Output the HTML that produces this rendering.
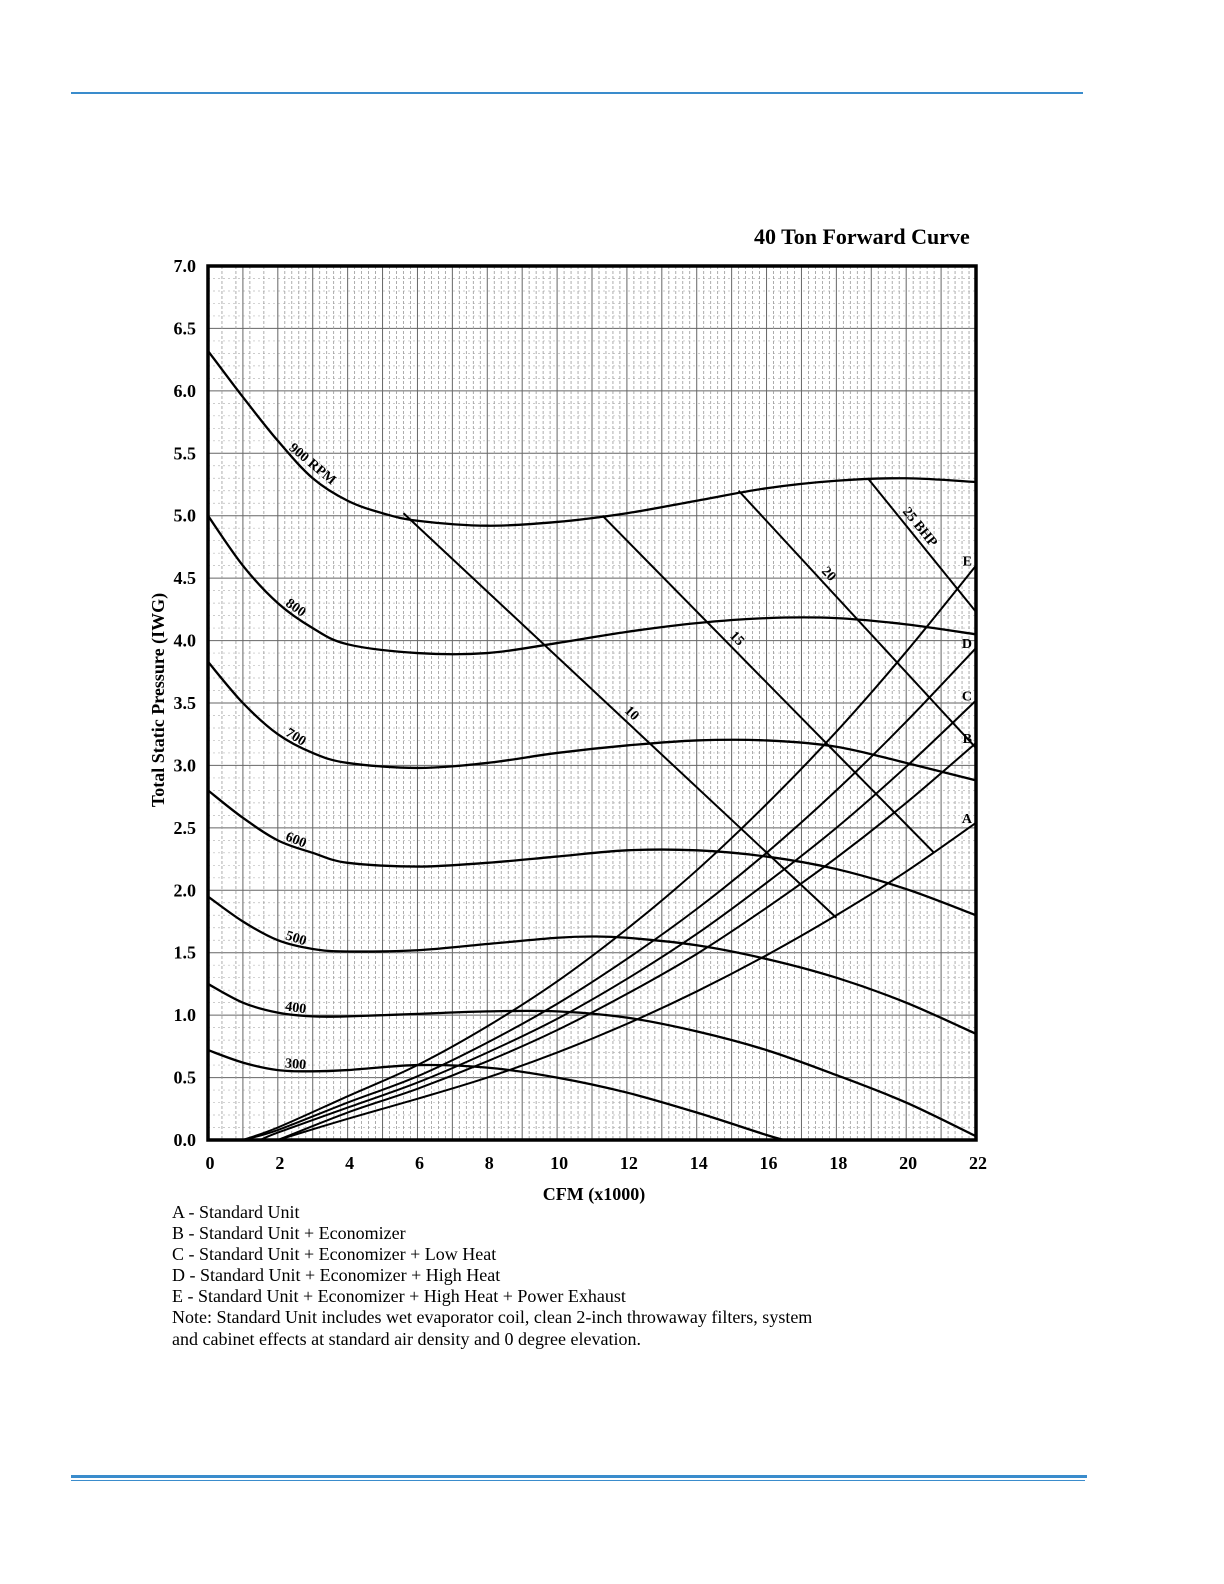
<!DOCTYPE html>
<html><head><meta charset="utf-8"><style>
html,body{margin:0;padding:0;background:#fff;}
body{width:1224px;height:1584px;position:relative;overflow:hidden;font-family:"Liberation Serif",serif;}
.t{position:absolute;white-space:nowrap;color:#000;}
</style></head><body>
<div style="position:absolute;left:71px;top:92px;width:1012px;height:2px;background:#3a8ccc;"></div>
<div style="position:absolute;left:71px;top:1475px;width:1016px;height:3px;background:#3a8ccc;"></div>
<div style="position:absolute;left:71px;top:1480px;width:1014px;height:1px;background:#3a8ccc;"></div>
<div class="t" style="left:754px;top:224px;font-size:22px;font-weight:bold;">40 Ton Forward Curve</div>
<div style="position:absolute;left:172px;top:1202px;font-size:18px;line-height:21.1px;">
<div>A - Standard Unit</div>
<div>B - Standard Unit + Economizer</div>
<div>C - Standard Unit + Economizer + Low Heat</div>
<div>D - Standard Unit + Economizer + High Heat</div>
<div>E - Standard Unit + Economizer + High Heat + Power Exhaust</div>
<div>Note: Standard Unit includes wet evaporator coil, clean 2-inch throwaway filters, system<br>and cabinet effects at standard air density and 0 degree elevation.</div>
</div>
<svg id="chart" width="1224" height="1584" style="position:absolute;left:0;top:0;"></svg>
<script>
const xTicks=[0,2,4,6,8,10,12,14,16,18,20,22];
const yTicks=[0,0.5,1,1.5,2,2.5,3,3.5,4,4.5,5,5.5,6,6.5,7];
const rpmNames=["900 RPM","800","700","600","500","400","300"];
const rpm900=[[0,6.32],[1,5.95],[2,5.6],[3,5.3],[4,5.12],[5,5.02],[6,4.96],[8,4.92],[10,4.95],[12,5.02],[14,5.12],[16,5.22],[18,5.28],[20,5.3],[22,5.27]];
const rpm800=[[0,5.0],[1,4.6],[2,4.3],[3,4.1],[4,3.97],[6,3.9],[8,3.9],[10,3.98],[12,4.07],[14,4.14],[16,4.18],[18,4.18],[20,4.13],[22,4.05]];
const rpm700=[[0,3.83],[1,3.5],[2,3.25],[3,3.1],[4,3.02],[6,2.98],[8,3.02],[10,3.1],[12,3.16],[14,3.2],[16,3.2],[18,3.15],[20,3.02],[22,2.88]];
const rpm600=[[0,2.8],[1,2.58],[2,2.4],[3,2.3],[4,2.22],[6,2.19],[8,2.22],[10,2.27],[12,2.32],[14,2.32],[16,2.27],[18,2.17],[20,2.01],[22,1.8]];
const rpm500=[[0,1.95],[1,1.75],[2,1.6],[3,1.53],[4,1.51],[6,1.52],[8,1.57],[10,1.62],[11,1.63],[12,1.62],[14,1.56],[16,1.45],[18,1.3],[20,1.1],[22,0.85]];
const rpm400=[[0,1.25],[1,1.1],[2,1.02],[3,0.99],[4,0.99],[6,1.01],[8,1.03],[10,1.03],[12,0.98],[14,0.87],[16,0.72],[18,0.52],[20,0.3],[22,0.03]];
const rpm300=[[0,0.72],[1,0.62],[2,0.56],[3,0.55],[4,0.56],[6,0.6],[8,0.58],[10,0.5],[12,0.38],[14,0.22],[16,0.04],[16.5,0]];
const sysNames=["A","B","C","D","E"];
const sysA=[[2,0],[4,0.17],[6,0.33],[8,0.5],[10,0.7],[12,0.93],[14,1.19],[16,1.48],[18,1.8],[20,2.15],[22,2.54]];
const sysB=[[2,0],[4,0.22],[6,0.41],[8,0.63],[10,0.88],[12,1.17],[14,1.49],[16,1.86],[18,2.26],[20,2.7],[22,3.18]];
const sysC=[[1.5,0],[2,0.06],[4,0.26],[6,0.46],[8,0.7],[10,0.97],[12,1.29],[14,1.65],[16,2.06],[18,2.5],[20,2.99],[22,3.52]];
const sysD=[[1,0],[2,0.08],[4,0.3],[6,0.51],[8,0.78],[10,1.09],[12,1.45],[14,1.85],[16,2.3],[18,2.8],[20,3.35],[22,3.94]];
const sysE=[[1,0],[2,0.1],[4,0.35],[6,0.6],[8,0.91],[10,1.27],[12,1.69],[14,2.16],[16,2.69],[18,3.27],[20,3.91],[22,4.6]];
const bhpNames=["10","15","20","25 BHP"];
const bhp10=[[5.6,5.02],[18,1.78]];
const bhp15=[[11.3,5.0],[20.8,2.3]];
const bhp20=[[15.2,5.2],[22,3.14]];
const bhp25=[[18.9,5.3],[22,4.23]];

const svg=document.getElementById('chart');
const NS='http://www.w3.org/2000/svg';
const X0=208,X1=976,Y0=1140,Y1=266;
function sx(v){return X0+(X1-X0)*v/22;}
function sy(v){return Y0-(Y0-Y1)*v/7;}
function mk(tag,attrs,parent){const e=document.createElementNS(NS,tag);for(const k in attrs)e.setAttribute(k,attrs[k]);(parent||svg).appendChild(e);return e;}
const grid=mk('g',{});


for(let i=1;i<70;i++){const v=i/10;const major=i%5===0;
 mk('line',{x1:X0,x2:X1,y1:sy(v),y2:sy(v),stroke:major?'#666':'#bbb','stroke-width':major?1:0.7,'stroke-dasharray':major?'none':'2,3'},grid);}
for(let i=1;i<110;i++){const v=i/5;const major=i%5===0;
 if(v<2 && !major && i%2) continue;
 mk('line',{x1:sx(v),x2:sx(v),y1:Y1,y2:Y0,stroke:major?'#666':'#999','stroke-width':major?1:0.8,'stroke-dasharray':major?'none':'3,2'},grid);}
function pathD(pts){const p=pts.map(q=>[sx(q[0]),sy(q[1])]);let d='M'+p[0][0]+','+p[0][1];
 for(let i=0;i<p.length-1;i++){const a=p[i-1]||p[i],b=p[i],c=p[i+1],e=p[i+2]||c;
  const c1=[b[0]+(c[0]-a[0])/6,b[1]+(c[1]-a[1])/6],c2=[c[0]-(e[0]-b[0])/6,c[1]-(e[1]-b[1])/6];
  d+=' C'+c1[0]+','+c1[1]+' '+c2[0]+','+c2[1]+' '+c[0]+','+c[1];}
 return d;}
const rpmSets=[rpm900,rpm800,rpm700,rpm600,rpm500,rpm400,rpm300];
rpmSets.forEach((s,i)=>{const el=mk('path',{d:pathD(s),fill:'none',stroke:'#000','stroke-width':2.3});
 
 });
const sysSets=[sysA,sysB,sysC,sysD,sysE];
sysSets.forEach((s,i)=>{const el=mk('path',{d:pathD(s),fill:'none',stroke:'#000','stroke-width':2});
 
 
 const last=s[s.length-1];
 const t=mk('text',{x:sx(last[0])-4,y:sy(last[1])+0,'font-size':14,'font-weight':'bold','font-family':'Liberation Serif, serif','text-anchor':'end'});
 t.textContent=sysNames[i];
 
 });
const bhpSets=[bhp10,bhp15,bhp20,bhp25];
const bhpLabelT=[0.5,0.37,0.33,0.28];
bhpSets.forEach((s,i)=>{const el=mk('line',{x1:sx(s[0][0]),y1:sy(s[0][1]),x2:sx(s[1][0]),y2:sy(s[1][1]),stroke:'#000','stroke-width':2});
 
 
 const tx=sx(s[0][0]+(s[1][0]-s[0][0])*bhpLabelT[i]),ty=sy(s[0][1]+(s[1][1]-s[0][1])*bhpLabelT[i]);
 const ang=Math.atan2(sy(s[1][1])-sy(s[0][1]),sx(s[1][0])-sx(s[0][0]))*180/Math.PI;
 const t=mk('text',{x:tx+4,y:ty-4,'font-size':14,'font-weight':'bold','font-family':'Liberation Serif, serif',transform:'rotate('+ang+' '+(tx+4)+' '+(ty-4)+')'});
 t.textContent=bhpNames[i];
 
 });
const rpmLabelX=[2.3,2.2,2.2,2.2,2.2,2.2,2.2];
const rpmLabelA=[40,35,32,22,18,8,5];
rpmSets.forEach((s,i)=>{let x=rpmLabelX[i];let y=0;for(let k=0;k<s.length-1;k++){if(x>=s[k][0]&&x<=s[k+1][0]){y=s[k][1]+(s[k+1][1]-s[k][1])*(x-s[k][0])/(s[k+1][0]-s[k][0]);}}
 const px=sx(x),py=sy(y)-3;
 const t=mk('text',{x:px,y:py,'font-size':14,'font-weight':'bold','font-family':'Liberation Serif, serif',transform:'rotate('+rpmLabelA[i]+' '+px+' '+py+')'});
 t.textContent=rpmNames[i];
 
 });
const fr=mk('rect',{x:X0,y:Y1,width:X1-X0,height:Y0-Y1,fill:'none',stroke:'#000','stroke-width':3.5});


xTicks.forEach(v=>{const t=mk('text',{x:sx(v)+2,y:Y0+29,'font-size':18,'font-weight':'bold','font-family':'Liberation Serif, serif','text-anchor':'middle'});
 t.textContent=String(v);
 
 });
yTicks.forEach(v=>{const t=mk('text',{x:196,y:sy(v)+6,'font-size':18,'font-weight':'bold','font-family':'Liberation Serif, serif','text-anchor':'end'});
 t.textContent=v.toFixed(1);
 
 });
const xt=mk('text',{x:594,y:1200,'font-size':18,'font-weight':'bold','font-family':'Liberation Serif, serif','text-anchor':'middle'});
xt.textContent='CFM (x1000)';


const yt=mk('text',{x:0,y:0,'font-size':18,'font-weight':'bold','font-family':'Liberation Serif, serif','text-anchor':'middle',transform:'translate(164,700) rotate(-90)'});
yt.textContent='Total Static Pressure (IWG)';


</script>
</body></html>
